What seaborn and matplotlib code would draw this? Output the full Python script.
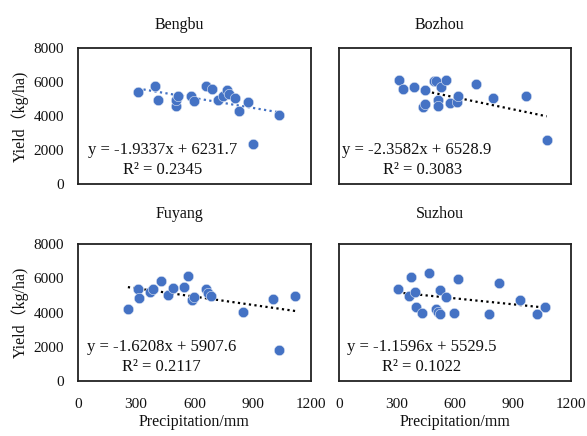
import numpy as np
import pandas as pd
import seaborn as sns
import matplotlib.pyplot as plt

sites = ["Bengbu", "Bozhou", "Fuyang", "Suzhou"]

bengbu_x = [310, 395, 412, 504, 504, 516, 585, 599, 660, 690, 724, 747, 769, 776, 808, 830, 877, 903, 1033]
bengbu_y = [5435, 5806, 4982, 4588, 4982, 5218, 5218, 4923, 5806, 5629, 4941, 5176, 5570, 5335, 5082, 4335, 4847, 2335, 4082]

bozhou_x = [312, 329, 386, 447, 436, 447, 490, 500, 528, 555, 510, 510, 574, 609, 617, 710, 798, 966, 1075]
bozhou_y = [6118, 5612, 5706, 5571, 4560, 4700, 6100, 6060, 5730, 6118, 4982, 4629, 4788, 4847, 5176, 5900, 5082, 5176, 2588]

fuyang_x = [258, 310, 314, 374, 388, 430, 464, 492, 547, 568, 590, 599, 660, 669, 686, 850, 1006, 1035, 1119]
fuyang_y = [4190, 5407, 4850, 5186, 5407, 5844, 5048, 5449, 5485, 6144, 4748, 4910, 5407, 5150, 4988, 4030, 4808, 1814, 4946]

suzhou_x = [305, 364, 373, 395, 400, 430, 464, 504, 510, 521, 525, 555, 594, 614, 775, 827, 936, 1023, 1064]
suzhou_y = [5389, 4988, 6108, 5186, 4311, 3988, 6287, 4190, 4050, 3910, 5305, 4886, 3988, 5988, 3910, 5707, 4748, 3910, 4347]

slopes = [-1.9337, -2.3582, -1.6208, -1.1596]
intercepts = [6231.7, 6528.9, 5907.6, 5529.5]
r2 = ["0.2345", "0.3083", "0.2117", "0.1022"]

xs = [bengbu_x, bozhou_x, fuyang_x, suzhou_x]
ys = [bengbu_y, bozhou_y, fuyang_y, suzhou_y]

sns.set_theme(style="white")
plt.rcParams["font.family"] = ["Liberation Serif", "Noto Sans CJK SC"]
plt.rcParams["text.color"] = "#111111"
plt.rcParams["axes.labelcolor"] = "#111111"

blue = "#4472C4"
fig = plt.figure(figsize=(5.87, 4.36), dpi=100)

# axes rectangles in figure fractions
boxes = [
    [0.1324, 0.578, 0.3975, 0.311],
    [0.5775, 0.578, 0.395, 0.311],
    [0.1324, 0.126, 0.3975, 0.314],
    [0.5775, 0.126, 0.395, 0.314],
]
eq_pos = [(0.044, 0.25, 0.194, 0.10), (0.012, 0.25, 0.19, 0.10),
          (0.038, 0.25, 0.19, 0.10), (0.033, 0.25, 0.184, 0.10)]
line_colors = [blue, "black", "black", "black"]
title_pads = [14, 14, 19, 19]

for i, name in enumerate(sites):
    ax = fig.add_axes(boxes[i])
    df = pd.DataFrame({"x": xs[i], "y": ys[i]})
    sns.scatterplot(data=df, x="x", y="y", ax=ax, color=blue, s=56,
                    edgecolor="#dfe6f3", linewidth=0.4, zorder=3)
    lx = np.array([df["x"].min(), df["x"].max()])
    ax.plot(lx, slopes[i] * lx + intercepts[i], linestyle=(0, (1, 1.5)),
            color=line_colors[i], linewidth=1.6, zorder=2)

    ax.set_xlim(0, 1200)
    ax.set_ylim(0, 8000)
    ax.set_xticks([0, 300, 600, 900, 1200])
    ax.set_yticks([0, 2000, 4000, 6000, 8000])
    ax.tick_params(direction="in", length=4, width=1, color="black",
                   labelsize=11, labelcolor="#111111")
    ax.tick_params(axis="x", pad=12)
    ax.tick_params(axis="y", pad=10)
    for sp in ax.spines.values():
        sp.set_color("#222222")
        sp.set_linewidth(1.3)

    ax.set_title(name, fontsize=11.5, x=0.435, pad=title_pads[i])

    ex, ey, rx, ry = eq_pos[i]
    sign = "-" if slopes[i] < 0 else ""
    ax.text(ex, ey, f"y = {sign}{abs(slopes[i]):.4f}x + {intercepts[i]:.1f}",
            transform=ax.transAxes, fontsize=12, va="center", ha="left")
    ax.text(rx, ry, f"R² = {r2[i]}", transform=ax.transAxes,
            fontsize=12, va="center", ha="left")

    if i in (0, 1):
        ax.set_xticklabels([])
        ax.set_xlabel("")
    else:
        ax.set_xlabel("Precipitation/mm", fontsize=11.5, labelpad=2)
    if i in (1, 3):
        ax.set_yticklabels([])
        ax.set_ylabel("")
    else:
        ax.set_ylabel("Yield（kg/ha)", fontsize=11.5, labelpad=3)

fig.savefig("out.png", dpi=100)
